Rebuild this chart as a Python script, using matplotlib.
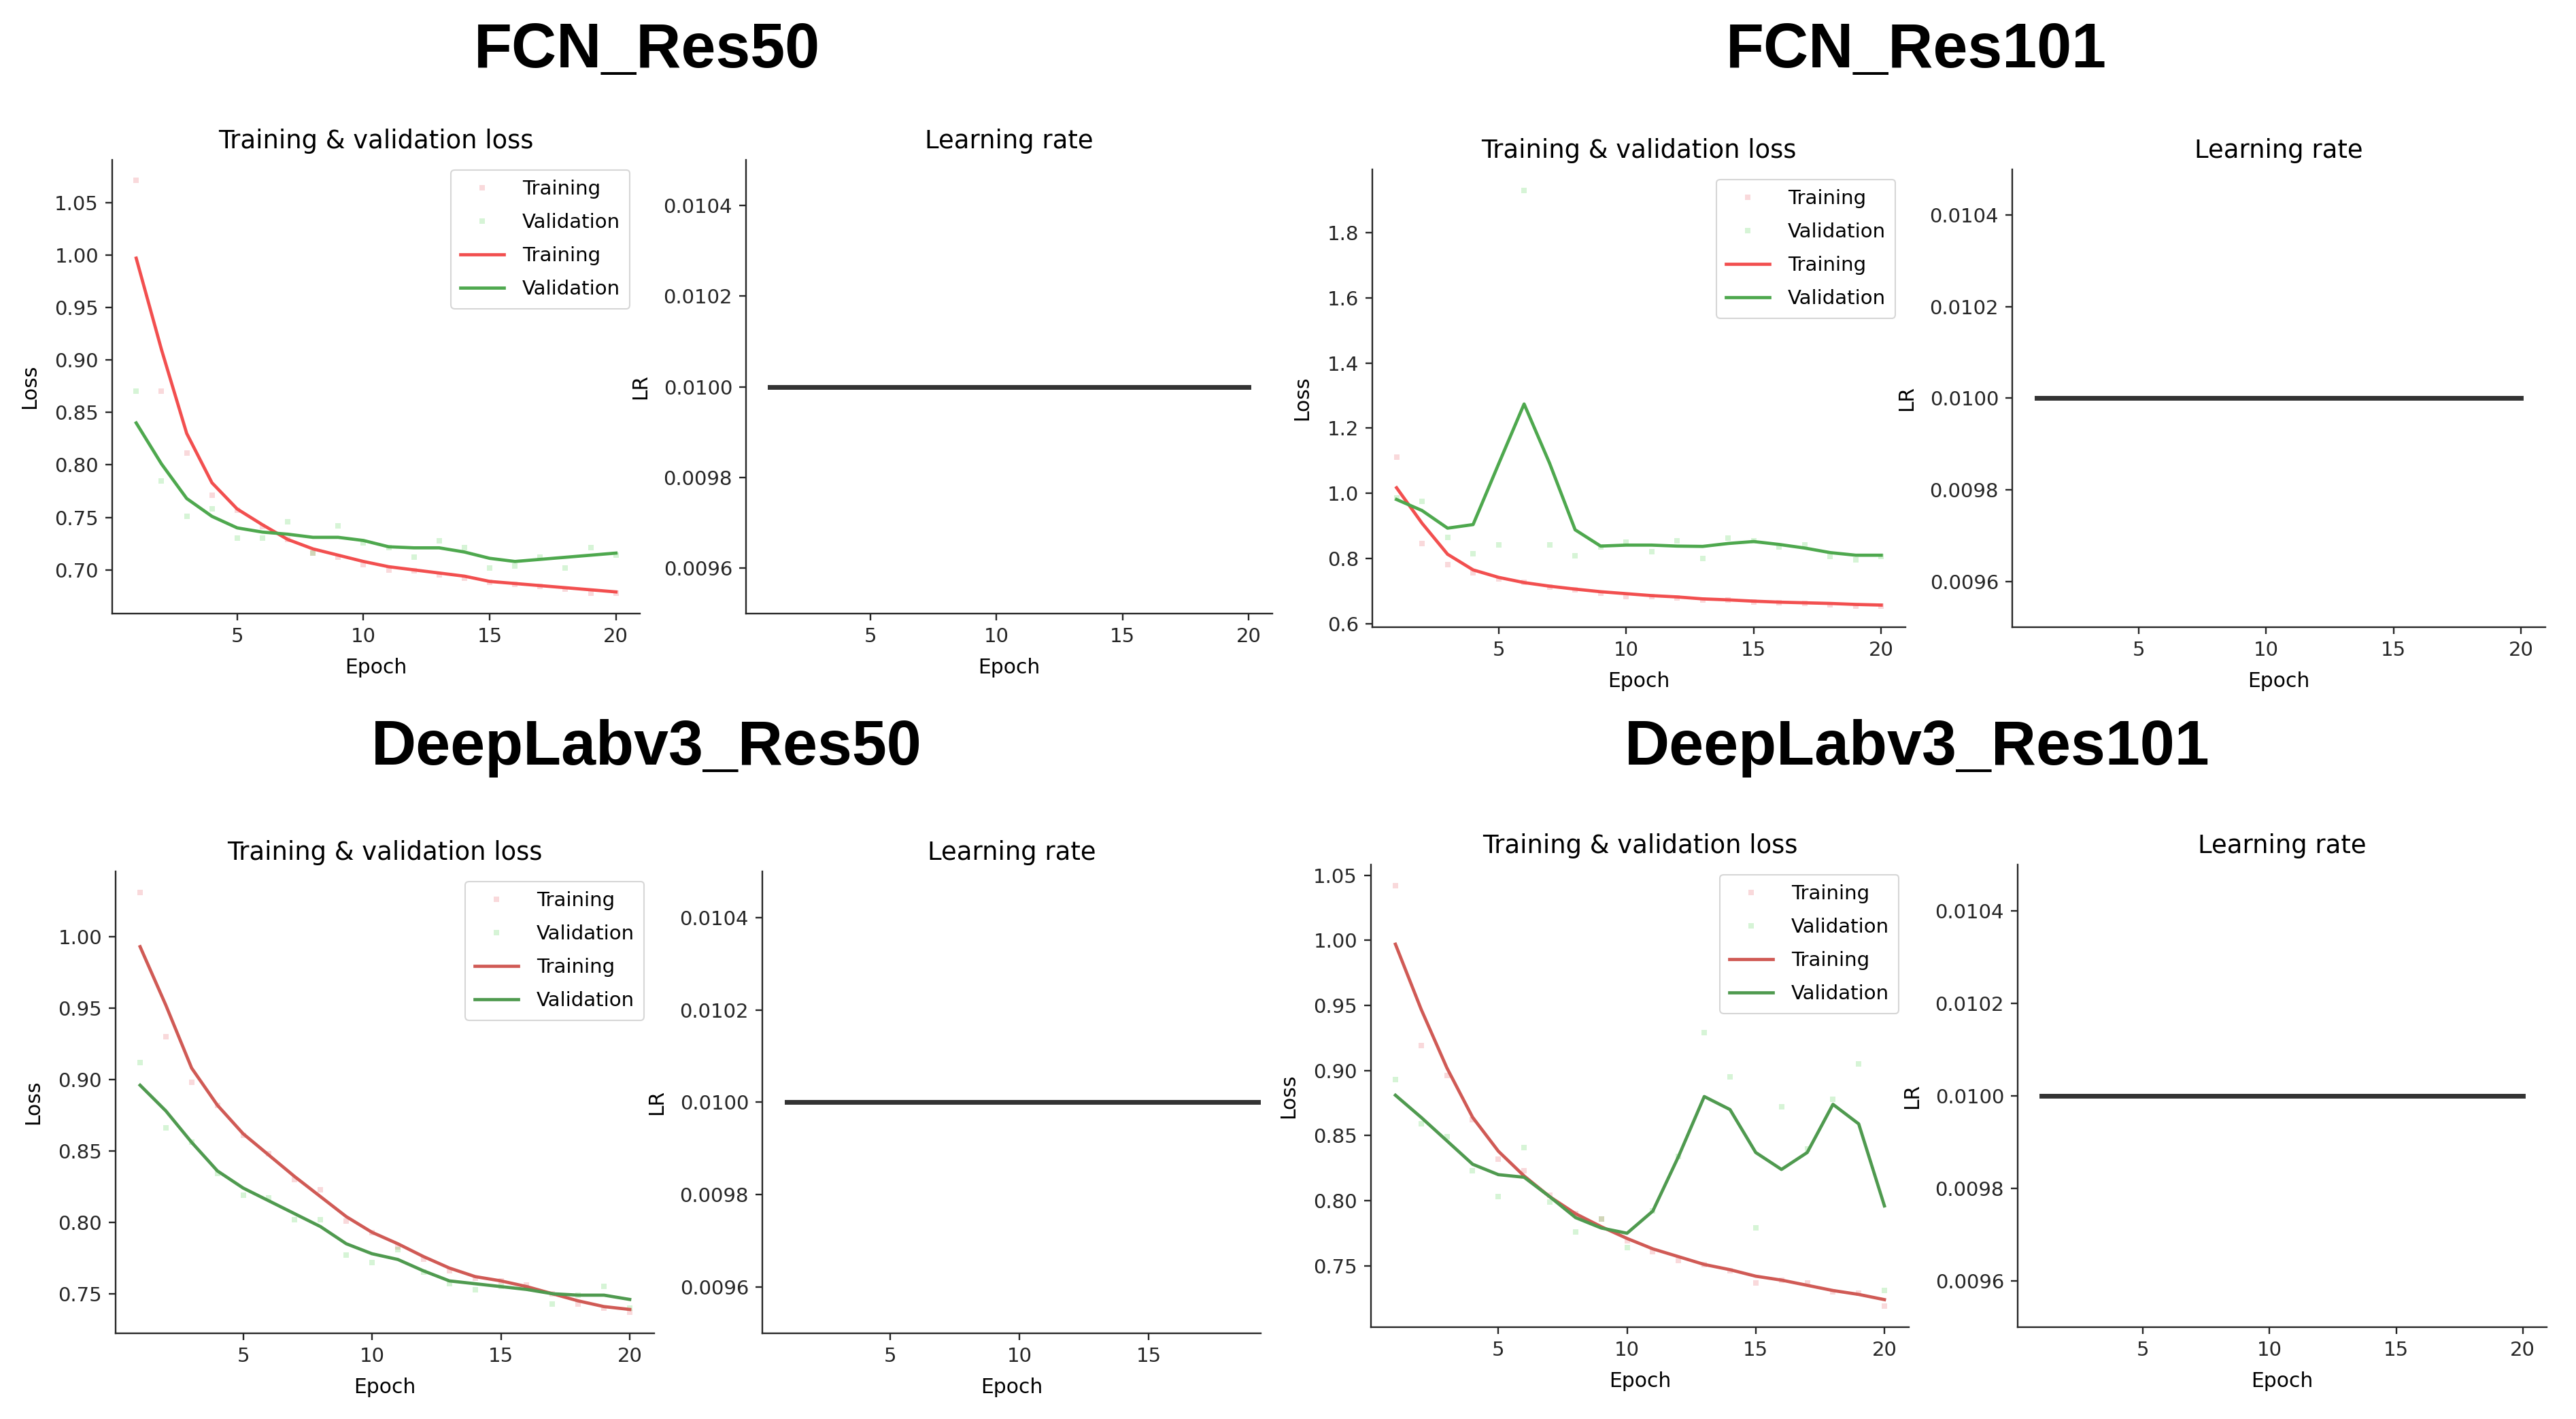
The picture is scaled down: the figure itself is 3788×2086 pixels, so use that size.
import matplotlib
matplotlib.use("Agg")
import matplotlib.pyplot as plt

epochs = list(range(1, 21))
lr_values = [0.01] * 20

# FCN_Res50
fcn50_train_raw = [1.071, 0.870, 0.811, 0.771, 0.757, 0.741, 0.729, 0.716, 0.712, 0.705,
                   0.700, 0.699, 0.695, 0.692, 0.688, 0.686, 0.684, 0.682, 0.678, 0.678]
fcn50_val_raw = [0.870, 0.785, 0.751, 0.758, 0.730, 0.730, 0.746, 0.716, 0.742, 0.726,
                 0.721, 0.712, 0.728, 0.721, 0.702, 0.704, 0.712, 0.702, 0.721, 0.714]
fcn50_train = [0.997, 0.910, 0.830, 0.783, 0.758, 0.743, 0.729, 0.720, 0.714, 0.708,
               0.703, 0.700, 0.697, 0.694, 0.689, 0.687, 0.685, 0.683, 0.681, 0.679]
fcn50_val = [0.840, 0.801, 0.768, 0.751, 0.740, 0.736, 0.734, 0.731, 0.731, 0.728,
             0.722, 0.721, 0.721, 0.717, 0.711, 0.708, 0.710, 0.712, 0.714, 0.716]

# FCN_Res101
fcn101_train_raw = [1.111, 0.846, 0.781, 0.757, 0.738, 0.726, 0.712, 0.704, 0.693, 0.684,
                    0.684, 0.678, 0.673, 0.673, 0.667, 0.664, 0.662, 0.659, 0.653, 0.653]
fcn101_val_raw = [0.986, 0.975, 0.865, 0.815, 0.841, 1.930, 0.841, 0.809, 0.835, 0.850,
                  0.820, 0.854, 0.801, 0.863, 0.854, 0.835, 0.841, 0.807, 0.796, 0.807]
fcn101_train = [1.017, 0.908, 0.813, 0.765, 0.742, 0.726, 0.715, 0.706, 0.698, 0.692,
                0.686, 0.682, 0.676, 0.673, 0.669, 0.666, 0.664, 0.662, 0.659, 0.657]
fcn101_val = [0.981, 0.947, 0.893, 0.904, 1.090, 1.274, 1.092, 0.888, 0.838, 0.841,
              0.841, 0.838, 0.837, 0.846, 0.852, 0.843, 0.832, 0.818, 0.810, 0.810]

# DeepLabv3_Res50
dl50_train_raw = [1.031, 0.930, 0.898, 0.882, 0.861, 0.848, 0.830, 0.823, 0.801, 0.793,
                  0.783, 0.774, 0.766, 0.761, 0.759, 0.756, 0.750, 0.743, 0.740, 0.737]
dl50_val_raw = [0.912, 0.866, 0.856, 0.834, 0.819, 0.817, 0.802, 0.802, 0.777, 0.772,
                0.781, 0.765, 0.757, 0.753, 0.755, 0.754, 0.743, 0.749, 0.755, 0.740]
dl50_train = [0.993, 0.952, 0.908, 0.882, 0.862, 0.847, 0.832, 0.818, 0.804, 0.793,
              0.785, 0.776, 0.768, 0.762, 0.759, 0.755, 0.750, 0.745, 0.741, 0.739]
dl50_val = [0.896, 0.878, 0.856, 0.836, 0.824, 0.815, 0.806, 0.797, 0.785, 0.778,
            0.774, 0.766, 0.759, 0.757, 0.755, 0.753, 0.750, 0.749, 0.749, 0.746]

# DeepLabv3_Res101
dl101_train_raw = [1.042, 0.919, 0.896, 0.862, 0.832, 0.823, 0.804, 0.790, 0.786, 0.769,
                   0.761, 0.754, 0.751, 0.746, 0.737, 0.739, 0.737, 0.730, 0.729, 0.719]
dl101_val_raw = [0.893, 0.859, 0.849, 0.823, 0.803, 0.841, 0.799, 0.776, 0.786, 0.764,
                 0.792, 0.834, 0.929, 0.895, 0.779, 0.872, 0.840, 0.878, 0.905, 0.731]
dl101_train = [0.997, 0.947, 0.902, 0.864, 0.838, 0.819, 0.803, 0.790, 0.780, 0.771,
               0.763, 0.757, 0.751, 0.747, 0.742, 0.739, 0.735, 0.731, 0.728, 0.724]
dl101_val = [0.881, 0.864, 0.846, 0.828, 0.820, 0.818, 0.803, 0.787, 0.779, 0.775,
             0.792, 0.834, 0.880, 0.870, 0.837, 0.824, 0.837, 0.874, 0.859, 0.796]

W, H = 3788, 2086
fig = plt.figure(figsize=(W / 100, H / 100), dpi=100)

TICK = 21
LABEL = 21.4
TITLE = 26.6
LEG = 21


def ax_at(x0, x1, y0, y1):
    # pixel box -> figure fraction
    return fig.add_axes([x0 / W, 1 - y1 / H, (x1 - x0) / W, (y1 - y0) / H])


def style(ax):
    ax.spines["top"].set_visible(False)
    ax.spines["right"].set_visible(False)
    for s in ("left", "bottom"):
        ax.spines[s].set_linewidth(1.7)
        ax.spines[s].set_color("#262626")
    ax.tick_params(labelsize=TICK, length=7.4, width=1.7, pad=7, colors="#262626")
    ax.set_xticks([5, 10, 15, 20])


def loss_panel(box, tr_raw, va_raw, tr, va, tr_col, va_col):
    ax = ax_at(*box)
    ax.plot(epochs, tr_raw, "s", color="#e8555f", alpha=0.22, markersize=5.5, markeredgewidth=0, label="Training")
    ax.plot(epochs, va_raw, "s", color="#33cc33", alpha=0.2, markersize=5.5, markeredgewidth=0, label="Validation")
    ax.plot(epochs, tr, color=tr_col, lw=3.4, label="Training")
    ax.plot(epochs, va, color=va_col, lw=3.4, label="Validation")
    style(ax)
    ax.set_title("Training & validation loss", fontsize=TITLE, pad=12)
    ax.set_xlabel("Epoch", fontsize=LABEL, labelpad=12)
    ax.set_ylabel("Loss", fontsize=LABEL, labelpad=16)
    leg = ax.legend(fontsize=LEG, loc="upper right", handlelength=2.2, handletextpad=0.9,
                    borderpad=0.5, labelspacing=0.72)
    leg.get_frame().set_linewidth(1.5)
    leg.get_frame().set_edgecolor("#cccccc")
    return ax


def lr_panel(box, xmax=20.95):
    ax = ax_at(*box)
    ax.plot(epochs, lr_values, color="#333333", lw=5)
    style(ax)
    ax.set_xlim(0.05, xmax)
    ax.set_ylim(0.0095, 0.0105)
    ax.set_yticks([0.0096, 0.0098, 0.0100, 0.0102, 0.0104])
    ax.set_yticklabels(["0.0096", "0.0098", "0.0100", "0.0102", "0.0104"])
    if xmax < 20:
        ax.set_xticks([5, 10, 15])
    ax.set_title("Learning rate", fontsize=TITLE, pad=12)
    ax.set_xlabel("Epoch", fontsize=LABEL, labelpad=12)
    ax.set_ylabel("LR", fontsize=LABEL, labelpad=14)
    return ax


top_red, top_green = "#f24f4f", "#4ea84e"
bot_red, bot_green = "#d05a55", "#4f9a4f"

loss_panel((165, 941, 235, 902), fcn50_train_raw, fcn50_val_raw, fcn50_train, fcn50_val, top_red, top_green)
lr_panel((1097, 1871, 235, 902))

loss_panel((2018, 2802, 249, 922), fcn101_train_raw, fcn101_val_raw, fcn101_train, fcn101_val, top_red, top_green)
lr_panel((2959, 3743, 249, 922))

loss_panel((170, 962, 1281, 1960), dl50_train_raw, dl50_val_raw, dl50_train, dl50_val, bot_red, bot_green)
lr_panel((1121, 1854, 1281, 1960), xmax=19.34)

loss_panel((2016, 2807, 1271, 1951), dl101_train_raw, dl101_val_raw, dl101_train, dl101_val, bot_red, bot_green)
lr_panel((2967, 3745, 1271, 1951))

# block headers
head = dict(fontsize=66, fontweight="bold", family="Liberation Sans", ha="center", va="center")
fig.text(951 / W, 1 - 75 / H, "FCN_Res50", **head)
fig.text(2818 / W, 1 - 75 / H, "FCN_Res101", **head)
fig.text(951 / W, 1 - 1100 / H, "DeepLabv3_Res50", **head)
fig.text(2819 / W, 1 - 1100 / H, "DeepLabv3_Res101", **head)

fig.savefig("out.png", dpi=100, facecolor="white")
